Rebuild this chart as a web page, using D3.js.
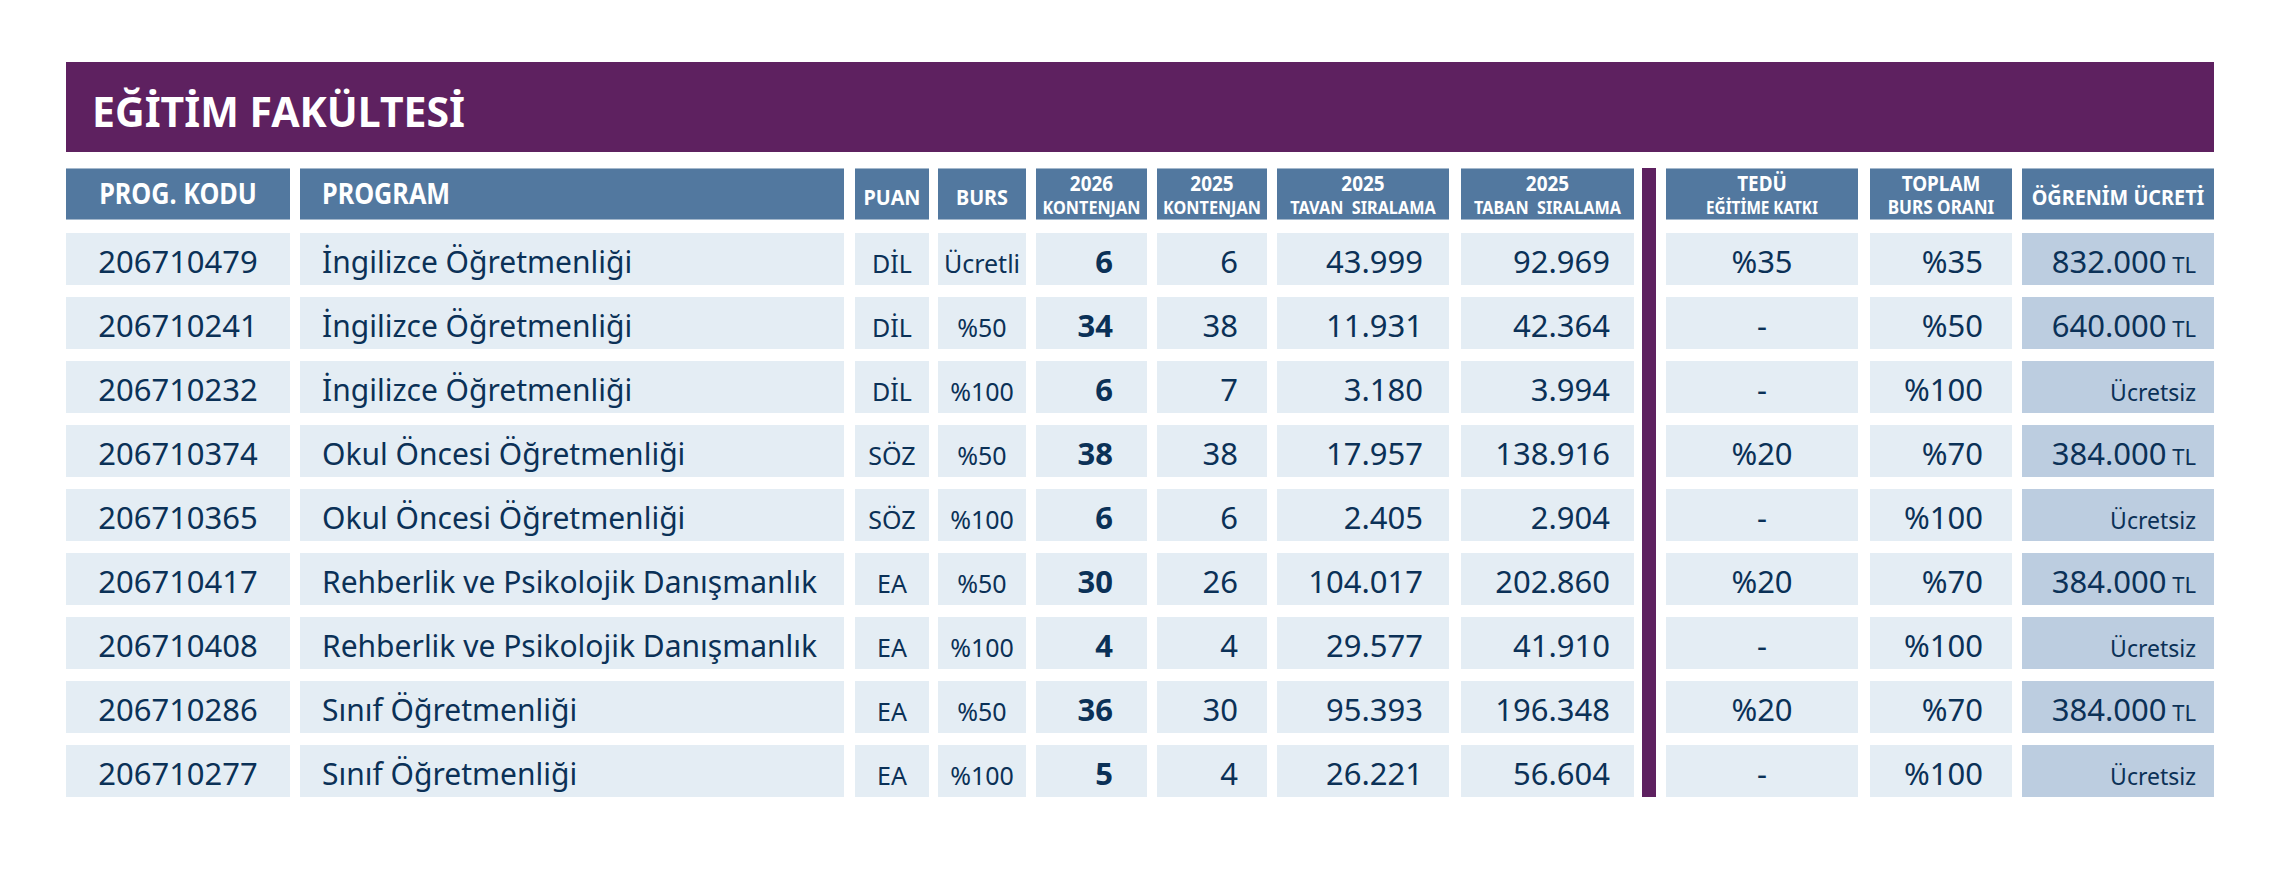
<!DOCTYPE html>
<html>
<head>
<meta charset="utf-8">
<script src="https://cdn.jsdelivr.net/npm/d3@7"></script>
<style>
  body { margin: 0; background: #fff; }
  svg { display: block; font-family: "Noto Sans", sans-serif; }
</style>
</head>
<body>
<div id="chart"></div>
<script>
/** Eğitim Fakültesi table *******************/

var title = "EĞİTİM FAKÜLTESİ";

// header labels, two lines where the original has two
var headTop = ["PROG. KODU", "PROGRAM", "PUAN", "BURS", "2026", "2025", "2025", "2025", "TEDÜ", "TOPLAM", "ÖĞRENİM ÜCRETİ"];
var headSub = [null, null, null, null, "KONTENJAN", "KONTENJAN", "TAVAN  SIRALAMA", "TABAN  SIRALAMA", "EĞİTİME KATKI", "BURS ORANI", null];

// one entry per row
var codes = ["206710479", "206710241", "206710232", "206710374", "206710365", "206710417", "206710408", "206710286", "206710277"];
var programs = ["İngilizce Öğretmenliği", "İngilizce Öğretmenliği", "İngilizce Öğretmenliği",
    "Okul Öncesi Öğretmenliği", "Okul Öncesi Öğretmenliği",
    "Rehberlik ve Psikolojik Danışmanlık", "Rehberlik ve Psikolojik Danışmanlık",
    "Sınıf Öğretmenliği", "Sınıf Öğretmenliği"];
var puan = ["DİL", "DİL", "DİL", "SÖZ", "SÖZ", "EA", "EA", "EA", "EA"];
var burs = ["Ücretli", "%50", "%100", "%50", "%100", "%50", "%100", "%50", "%100"];
var kontenjan2026 = [6, 34, 6, 38, 6, 30, 4, 36, 5];
var kontenjan2025 = [6, 38, 7, 38, 6, 26, 4, 30, 4];
var tavan2025 = [43999, 11931, 3180, 17957, 2405, 104017, 29577, 95393, 26221];
var taban2025 = [92969, 42364, 3994, 138916, 2904, 202860, 41910, 196348, 56604];
var egitimeKatki = [35, null, null, 20, null, 20, null, 20, null];
var toplamBurs = [35, 50, 100, 70, 100, 70, 100, 70, 100];
var ucret = [832000, 640000, 0, 384000, 0, 384000, 0, 384000, 0]; // 0 = Ücretsiz

//**************************************************/

var width = 2281;
var height = 887;

var purple = "#5e2160";
var headBlue = "#52789f";
var cellFill = "#e4edf4";
var feeFill = "#bccde0";
var ink = "#0b3157";

var tr = d3.formatLocale({ decimal: ",", thousands: ".", grouping: [3], currency: ["", " TL"] });
var num = tr.format(",d");
var pct = function(v) { return v == null ? "-" : "%" + v; };

// column layout: left, right, alignment, padding
var cols = [
    { x0: 66,   x1: 290,  align: "middle" },
    { x0: 300,  x1: 844,  align: "start", pad: 22 },
    { x0: 855,  x1: 929,  align: "middle" },
    { x0: 938,  x1: 1026, align: "middle" },
    { x0: 1036, x1: 1147, align: "end", pad: 34 },
    { x0: 1157, x1: 1267, align: "end", pad: 29 },
    { x0: 1277, x1: 1449, align: "end", pad: 26 },
    { x0: 1461, x1: 1634, align: "end", pad: 24 },
    { x0: 1666, x1: 1858, align: "middle" },
    { x0: 1870, x1: 2012, align: "end", pad: 29 },
    { x0: 2022, x1: 2214, align: "end", pad: 18 }
];
var divider = { x0: 1642, x1: 1656 };

function textX(c) {
    if (c.align == "middle") return (c.x0 + c.x1) / 2;
    if (c.align == "start") return c.x0 + c.pad;
    return c.x1 - c.pad;
}

var rowIdx = d3.range(codes.length);
var y = d3.scaleBand()
    .domain(rowIdx)
    .range([233, 797])
    .paddingInner(0.1875)
    .paddingOuter(0);

var headY0 = 168, headY1 = 220;

var svg = d3.select("#chart").append("svg")
    .attr("width", width)
    .attr("height", height);

svg.append("rect")
    .attr("width", width).attr("height", height).attr("fill", "#fff");

// title banner
svg.append("rect")
    .attr("x", 66).attr("y", 62)
    .attr("width", 2214 - 66).attr("height", 90)
    .attr("fill", purple);

svg.append("text")
    .attr("x", 92).attr("y", 127)
    .attr("fill", "#fff")
    .style("font-size", "41px")
    .style("font-weight", 700)
    .text(title);

// header cells
var head = svg.selectAll(".head")
    .data(cols)
  .enter().append("g")
    .attr("class", "head");

head.append("rect")
    .attr("x", function(d) { return d.x0; })
    .attr("y", headY0)
    .attr("width", function(d) { return d.x1 - d.x0; })
    .attr("height", headY1 - headY0)
    .attr("fill", headBlue);

head.append("line")
    .attr("x1", function(d) { return d.x0; })
    .attr("x2", function(d) { return d.x1; })
    .attr("y1", headY0 + 0.5).attr("y2", headY0 + 0.5)
    .attr("stroke", "#a4b8cc");

head.append("line")
    .attr("x1", function(d) { return d.x0; })
    .attr("x2", function(d) { return d.x1; })
    .attr("y1", headY1 - 0.5).attr("y2", headY1 - 0.5)
    .attr("stroke", "#a4b8cc");

// header font sizes: [top line, sub line]
var headSizes = [[28], [28], [22], [22], [21, 18], [21, 18], [21, 18], [21, 18], [21, 17], [21, 19], [22]];

function squeeze(sel, maxW) {
    sel.each(function() {
        var w = this.getComputedTextLength();
        var target = Math.min(w * 0.9, maxW);
        d3.select(this)
            .attr("textLength", target)
            .attr("lengthAdjust", "spacingAndGlyphs");
    });
}

cols.forEach(function(c, i) {
    var cx = c.align == "start" ? c.x0 + c.pad : (c.x0 + c.x1) / 2;
    var anchor = c.align == "start" ? "start" : "middle";
    var maxW = c.x1 - c.x0 - 8;
    var twoLine = headSub[i] != null;

    var t = svg.append("text")
        .attr("x", cx)
        .attr("y", twoLine ? 191 : (headSizes[i][0] > 24 ? 204 : 205))
        .attr("text-anchor", anchor)
        .attr("fill", "#fff")
        .style("font-size", headSizes[i][0] + "px")
        .style("font-weight", 700)
        .style("white-space", "pre")
        .text(headTop[i]);
    squeeze(t, maxW);

    if (twoLine) {
        var s = svg.append("text")
            .attr("x", cx)
            .attr("y", 214)
            .attr("text-anchor", anchor)
            .attr("fill", "#fff")
            .style("font-size", headSizes[i][1] + "px")
            .style("font-weight", 700)
            .style("white-space", "pre")
            .text(headSub[i]);
        squeeze(s, maxW);
    }
});

// body cells
var rows = svg.selectAll(".row")
    .data(rowIdx)
  .enter().append("g")
    .attr("class", "row")
    .attr("transform", function(r) { return "translate(0," + y(r) + ")"; });

cols.forEach(function(c, i) {
    rows.append("rect")
        .attr("x", c.x0)
        .attr("y", 0)
        .attr("width", c.x1 - c.x0)
        .attr("height", y.bandwidth())
        .attr("fill", i == cols.length - 1 ? feeFill : cellFill);
});

// vertical divider between ranking and scholarship blocks
svg.append("rect")
    .attr("x", divider.x0)
    .attr("y", headY0)
    .attr("width", divider.x1 - divider.x0)
    .attr("height", y(rowIdx[rowIdx.length - 1]) + y.bandwidth() - headY0)
    .attr("fill", purple);

// cell text per column
var cellText = [
    function(r) { return codes[r]; },
    function(r) { return programs[r]; },
    function(r) { return puan[r]; },
    function(r) { return burs[r]; },
    function(r) { return kontenjan2026[r]; },
    function(r) { return kontenjan2025[r]; },
    function(r) { return num(tavan2025[r]); },
    function(r) { return num(taban2025[r]); },
    function(r) { return pct(egitimeKatki[r]); },
    function(r) { return pct(toplamBurs[r]); }
];
var cellSize = [31, 30, 25, 25, 31, 31, 31, 31, 31, 31];

cellText.forEach(function(fn, i) {
    var c = cols[i];
    rows.append("text")
        .attr("x", textX(c))
        .attr("y", 40)
        .attr("text-anchor", c.align)
        .attr("fill", ink)
        .style("font-size", cellSize[i] + "px")
        .style("font-weight", i == 4 ? 700 : 400)
        .text(fn);
});

// fee column: amount + smaller TL, or Ücretsiz
var fee = rows.append("text")
    .attr("x", textX(cols[10]))
    .attr("y", 40)
    .attr("text-anchor", "end")
    .attr("fill", ink);

fee.each(function(r) {
    var t = d3.select(this);
    if (ucret[r] > 0) {
        t.append("tspan").style("font-size", "31px").text(num(ucret[r]));
        t.append("tspan").style("font-size", "22px").text(" TL");
    } else {
        t.append("tspan").style("font-size", "23px").text("Ücretsiz");
    }
});
</script>
</body>
</html>
